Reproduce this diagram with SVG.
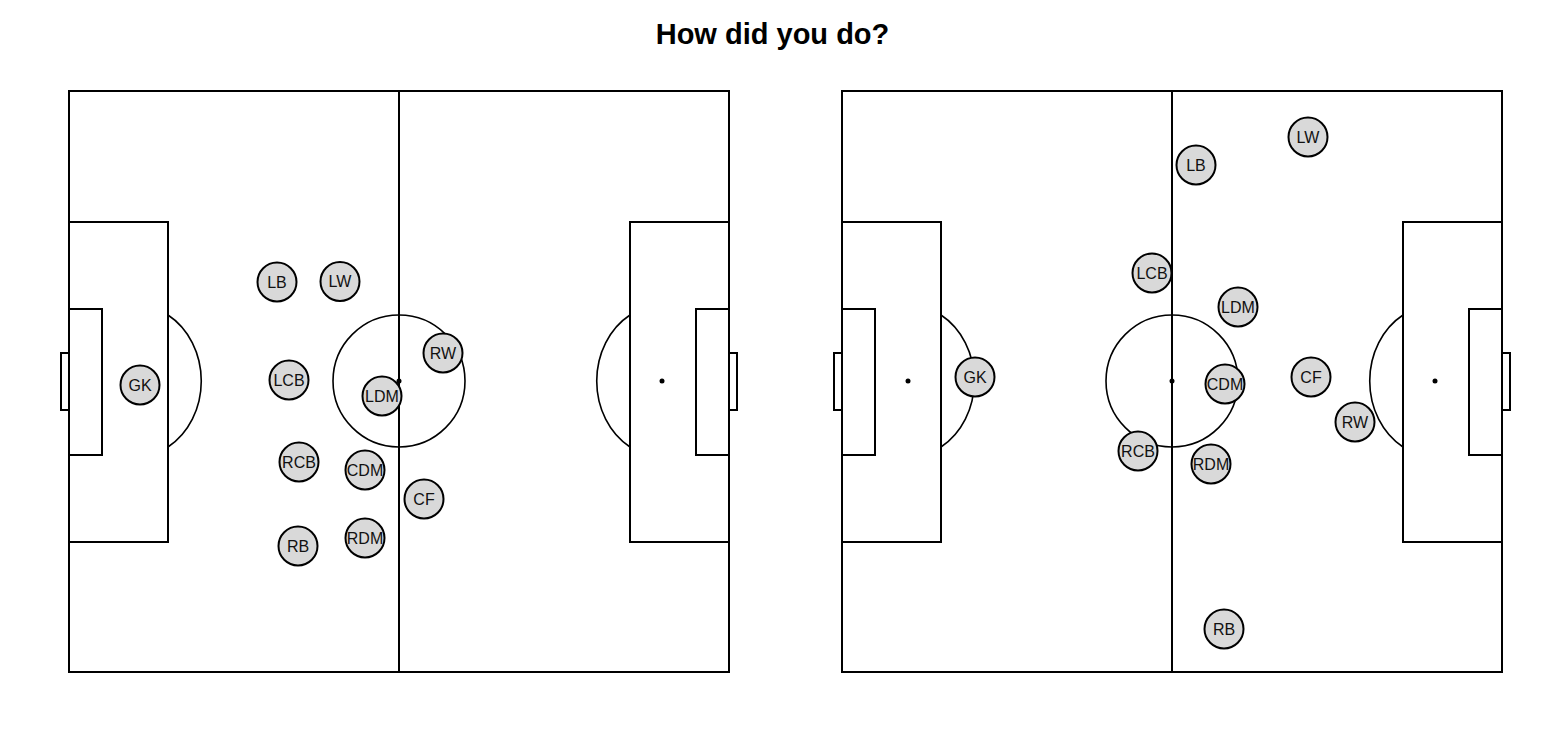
<svg xmlns="http://www.w3.org/2000/svg" width="1566" height="730" viewBox="0 0 1566 730">
<style>
.ln{fill:none;stroke:#000;stroke-width:2;stroke-linecap:square}
.cc{fill:none;stroke:#000;stroke-width:1.6}
.spot{fill:#000}
.nd circle{fill:#d9d9d9;stroke:#000;stroke-width:2}
.nd text{font-family:"Liberation Sans",Arial,sans-serif;font-size:16px;fill:#111;text-anchor:middle}
.title{font-family:"Liberation Sans",Arial,sans-serif;font-size:29px;font-weight:bold;fill:#000;text-anchor:middle}
</style>
<defs>
<g id="pitch">
<rect class="ln" x="69" y="91" width="660" height="581"/>
<line class="ln" x1="399" y1="91" x2="399" y2="672"/>
<circle class="cc" cx="399" cy="381" r="66"/>
<circle class="spot" cx="399" cy="381" r="2.5"/>
<rect class="ln" x="69" y="222" width="99" height="320"/>
<rect class="ln" x="69" y="309" width="33" height="146"/>
<rect class="ln" x="61" y="353" width="8" height="57"/>
<path class="cc" d="M168 315 A66 76 0 0 1 168 447"/>
<circle class="spot" cx="135" cy="381" r="2.5"/>
<rect class="ln" x="630" y="222" width="99" height="320"/>
<rect class="ln" x="696" y="309" width="33" height="146"/>
<rect class="ln" x="729" y="353" width="8" height="57"/>
<path class="cc" d="M630 315 A66 76 0 0 0 630 447"/>
<circle class="spot" cx="662" cy="381" r="2.5"/>
</g>
</defs>
<text class="title" x="772.5" y="44">How did you do?</text>
<g id="pitch-left"><use href="#pitch"/></g>
<g id="pitch-right" transform="translate(773,0)"><use href="#pitch"/></g>
<g id="connectors"></g>
<g id="left-GK" class="nd"><circle cx="140" cy="385" r="19.5"/><text x="140" y="390.7">GK</text></g>
<g id="left-LB" class="nd"><circle cx="277" cy="282" r="19.5"/><text x="277" y="287.7">LB</text></g>
<g id="left-LW" class="nd"><circle cx="340" cy="281.5" r="19.5"/><text x="340" y="287.2">LW</text></g>
<g id="left-LCB" class="nd"><circle cx="289" cy="380" r="19.5"/><text x="289" y="385.7">LCB</text></g>
<g id="left-LDM" class="nd"><circle cx="382" cy="396" r="19.5"/><text x="382" y="401.7">LDM</text></g>
<g id="left-RW" class="nd"><circle cx="443" cy="353" r="19.5"/><text x="443" y="358.7">RW</text></g>
<g id="left-RCB" class="nd"><circle cx="299" cy="462" r="19.5"/><text x="299" y="467.7">RCB</text></g>
<g id="left-CDM" class="nd"><circle cx="365" cy="470" r="19.5"/><text x="365" y="475.7">CDM</text></g>
<g id="left-CF" class="nd"><circle cx="424" cy="499" r="19.5"/><text x="424" y="504.7">CF</text></g>
<g id="left-RB" class="nd"><circle cx="298" cy="546" r="19.5"/><text x="298" y="551.7">RB</text></g>
<g id="left-RDM" class="nd"><circle cx="365" cy="538" r="19.5"/><text x="365" y="543.7">RDM</text></g>
<g id="right-LW" class="nd"><circle cx="1308" cy="137" r="19.5"/><text x="1308" y="142.7">LW</text></g>
<g id="right-LB" class="nd"><circle cx="1196" cy="165" r="19.5"/><text x="1196" y="170.7">LB</text></g>
<g id="right-LCB" class="nd"><circle cx="1152" cy="273" r="19.5"/><text x="1152" y="278.7">LCB</text></g>
<g id="right-LDM" class="nd"><circle cx="1238" cy="307" r="19.5"/><text x="1238" y="312.7">LDM</text></g>
<g id="right-GK" class="nd"><circle cx="975" cy="377" r="19.5"/><text x="975" y="382.7">GK</text></g>
<g id="right-CDM" class="nd"><circle cx="1225" cy="384" r="19.5"/><text x="1225" y="389.7">CDM</text></g>
<g id="right-CF" class="nd"><circle cx="1311" cy="377" r="19.5"/><text x="1311" y="382.7">CF</text></g>
<g id="right-RW" class="nd"><circle cx="1355" cy="422" r="19.5"/><text x="1355" y="427.7">RW</text></g>
<g id="right-RCB" class="nd"><circle cx="1138" cy="451" r="19.5"/><text x="1138" y="456.7">RCB</text></g>
<g id="right-RDM" class="nd"><circle cx="1211" cy="464" r="19.5"/><text x="1211" y="469.7">RDM</text></g>
<g id="right-RB" class="nd"><circle cx="1224" cy="629" r="19.5"/><text x="1224" y="634.7">RB</text></g>
</svg>
